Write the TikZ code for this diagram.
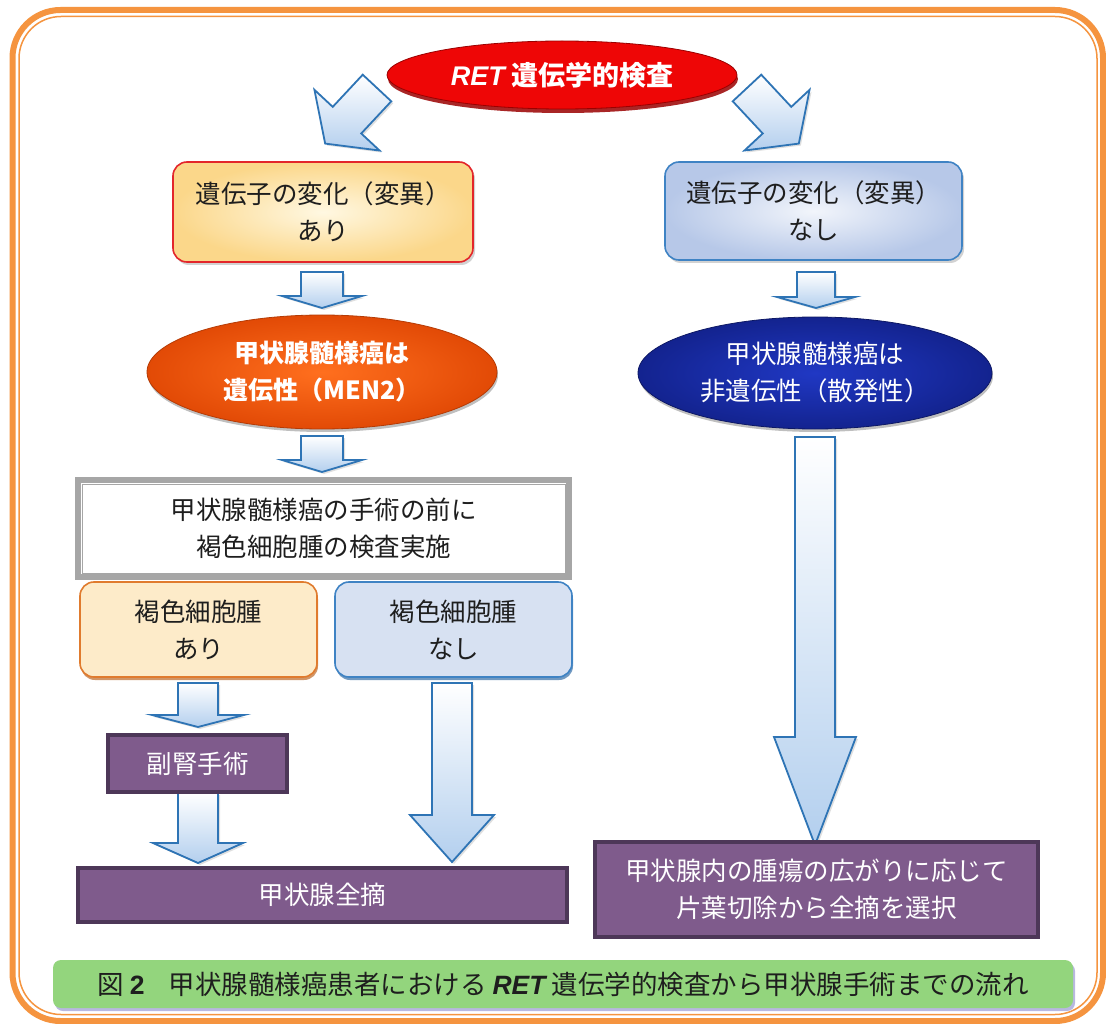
\documentclass[tikz,border=0pt]{standalone}
\usepackage{fontspec}
\setmainfont{Noto Sans CJK JP}
\newfontfamily\latf{Liberation Sans}
\usetikzlibrary{shapes.geometric,shadows,calc}
\definecolor{frameor}{HTML}{F5943F}
\definecolor{boxred}{HTML}{E3262B}
\definecolor{yellowA}{HTML}{FFF8E2}
\definecolor{yellowB}{HTML}{FBD78A}
\definecolor{blueA}{HTML}{F2F5FB}
\definecolor{blueB}{HTML}{B7C8E8}
\definecolor{bluebd}{HTML}{3F83C4}
\definecolor{arrowbd}{HTML}{2E74B5}
\definecolor{arrowfill}{HTML}{B3CFEE}
\definecolor{purp}{HTML}{7F5B8C}
\definecolor{purpbd}{HTML}{4D3758}
\definecolor{capgreen}{HTML}{93D57D}
\definecolor{txt}{HTML}{1E1E1E}
\definecolor{orbd}{HTML}{E07B2E}
\definecolor{orfill}{HTML}{FDEBC9}
\definecolor{bluefill}{HTML}{D7E1F2}
\definecolor{redfill}{HTML}{EE0606}
\definecolor{redbd}{HTML}{9A0000}
\definecolor{orA}{HTML}{FF6F1E}
\definecolor{orB}{HTML}{E24A06}
\definecolor{navyA}{HTML}{2038C4}
\definecolor{navyB}{HTML}{13238F}
\definecolor{grayfr}{HTML}{A6A6A6}
\tikzset{
  txtfont/.style={font=\fontsize{25.5}{37}\selectfont},
  barrow/.style={draw=arrowbd, line width=1.8pt, line join=miter, top color=white, bottom color=arrowfill,
    drop shadow={shadow xshift=2pt, shadow yshift=-2pt, opacity=.25}},
  boxyel/.style={rectangle, rounded corners=14pt, draw=boxred, line width=1.6pt, inner color=yellowA, outer color=yellowB,
    minimum width=300pt, minimum height=100pt, align=center, text=txt, txtfont,
    drop shadow={shadow xshift=2pt, shadow yshift=-3pt, opacity=.35}},
  boxblu/.style={rectangle, rounded corners=14pt, draw=bluebd, line width=1.6pt, inner color=blueA, outer color=blueB,
    minimum width=297pt, minimum height=98pt, align=center, text=txt, txtfont,
    drop shadow={shadow xshift=2pt, shadow yshift=-3pt, opacity=.35}},
  smallyel/.style={rectangle, rounded corners=14pt, draw=orbd, line width=1.6pt, fill=orfill,
    minimum width=237pt, minimum height=95pt, align=center, text=txt, txtfont,
    drop shadow={shadow xshift=1pt, shadow yshift=-3pt, fill=orbd!85!black, opacity=.7}},
  smallblu/.style={rectangle, rounded corners=14pt, draw=bluebd, line width=1.6pt, fill=bluefill,
    minimum width=237pt, minimum height=95pt, align=center, text=txt, txtfont,
    drop shadow={shadow xshift=1pt, shadow yshift=-3pt, fill=bluebd!85!black, opacity=.7}},
  purpbox/.style={rectangle, draw=purpbd, line width=3.5pt, fill=purp, align=center, text=white, txtfont,
    drop shadow={shadow xshift=2pt, shadow yshift=-2pt, opacity=.2}},
  ellbase/.style={ellipse, inner sep=0pt, align=center, text=white, font=\fontsize{25}{37}\selectfont\bfseries}
}
\begin{document}
\begin{tikzpicture}[x=1pt,y=-1pt]
\useasboundingbox (0,0) rectangle (1106,1024);
\fill[white] (0,0) rectangle (1106,1024);
% outer frame
\draw[frameor, line width=6pt, rounded corners=48pt] (12.5,10) rectangle (1103,1021);
\draw[frameor, line width=1.5pt, rounded corners=42pt] (19,16.5) rectangle (1097,1014.5);

% diagonal arrows from the top ellipse
\begin{scope}[shift={(377,88)},rotate=-43]
  \draw[barrow] (-19.5,0) -- (19.5,0) -- (19.5,44) -- (44.5,44) -- (0,76) -- (-44.5,44) -- (-19.5,44) -- cycle;
\end{scope}
\begin{scope}[shift={(747,88)},rotate=43]
  \draw[barrow] (-19.5,0) -- (19.5,0) -- (19.5,44) -- (44.5,44) -- (0,76) -- (-44.5,44) -- (-19.5,44) -- cycle;
\end{scope}

% top ellipse
\node[ellbase, minimum width=350pt, minimum height=68pt, fill=redfill, draw=redbd, line width=0.8pt,
  drop shadow={shadow xshift=1pt, shadow yshift=-4pt, fill=redbd, opacity=.85},
  font=\fontsize{27}{37}\selectfont\bfseries] (ret) at (562,75) {{\latf\bfseries\itshape RET} 遺伝学的検査};

% first level boxes
\node[boxyel] (yes) at (323,212) {遺伝子の変化（変異）\\あり};
\node[boxblu] (no) at (813.5,211) {遺伝子の変化（変異）\\なし};

% block arrows (vertical)
\newcommand\dnarrow[6]{% x, ytop, ytip, bodyhalf, headhalf, headlen
  \draw[barrow] (#1-#4,#2) -- (#1+#4,#2) -- (#1+#4,#3-#6) -- (#1+#5,#3-#6) -- (#1,#3) -- (#1-#5,#3-#6) -- (#1-#4,#3-#6) -- cycle;}
\dnarrow{322}{272}{308}{21}{40}{12}
\dnarrow{816}{272}{308}{19}{39}{11}

% second level ellipses
\node[ellbase, minimum width=350pt, minimum height=114pt, inner color=orA, outer color=orB, draw=orB!80!black, line width=0.8pt,
  drop shadow={shadow xshift=1pt, shadow yshift=-3pt, opacity=.5}] (her) at (322,372) {甲状腺髄様癌は\\遺伝性（MEN2）};
\node[ellbase, minimum width=354pt, minimum height=112pt, inner color=navyA, outer color=navyB, draw=navyB!70!black, line width=0.8pt,
  font=\fontsize{25.5}{37}\selectfont,
  drop shadow={shadow xshift=1pt, shadow yshift=-3pt, opacity=.5}] (spo) at (815,373) {甲状腺髄様癌は\\非遺伝性（散発性）};

\dnarrow{322}{436}{472}{21}{40}{12}

% gray double frame box
\node[rectangle, draw=grayfr, line width=6pt, fill=white, minimum width=491pt, minimum height=97pt,
  align=center, text=txt, txtfont] (pre) at (323.5,528.5) {甲状腺髄様癌の手術の前に\\褐色細胞腫の検査実施};
\draw[grayfr, line width=1pt] ($(pre.north west)+(7,7)$) rectangle ($(pre.south east)+(-7,-7)$);

% pheochromocytoma boxes
\node[smallyel] (phy) at (198.5,629.5) {褐色細胞腫\\あり};
\node[smallblu] (phn) at (453.5,629.5) {褐色細胞腫\\なし};

% arrows on the lower left
\dnarrow{198}{683}{727}{20}{46}{12}
\dnarrow{198}{793}{863}{20}{45}{20}
\dnarrow{452}{683}{862}{20}{42}{47}
% long right arrow
\dnarrow{815}{437}{845}{20}{41}{108}

% purple boxes
\node[purpbox, minimum width=179pt, minimum height=57pt] (adr) at (197.5,763.5) {副腎手術};
\node[purpbox, minimum width=489pt, minimum height=54pt] (tot) at (322.5,895) {甲状腺全摘};
\node[purpbox, minimum width=443pt, minimum height=95pt] (sel) at (816.5,889.5) {甲状腺内の腫瘍の広がりに応じて\\片葉切除から全摘を選択};

% caption
\fill[gray!60!blue!40, rounded corners=8pt] (55,963) rectangle (1075,1011);
\node[rectangle, rounded corners=8pt, fill=capgreen, minimum width=1020pt, minimum height=48pt, text=txt,
  font=\fontsize{26.5}{30}\selectfont] (cap) at (563,984)
  {図 {\latf\bfseries 2}\hspace{24pt}甲状腺髄様癌患者における {\latf\bfseries\itshape RET} 遺伝学的検査から甲状腺手術までの流れ};
\end{tikzpicture}
\end{document}
